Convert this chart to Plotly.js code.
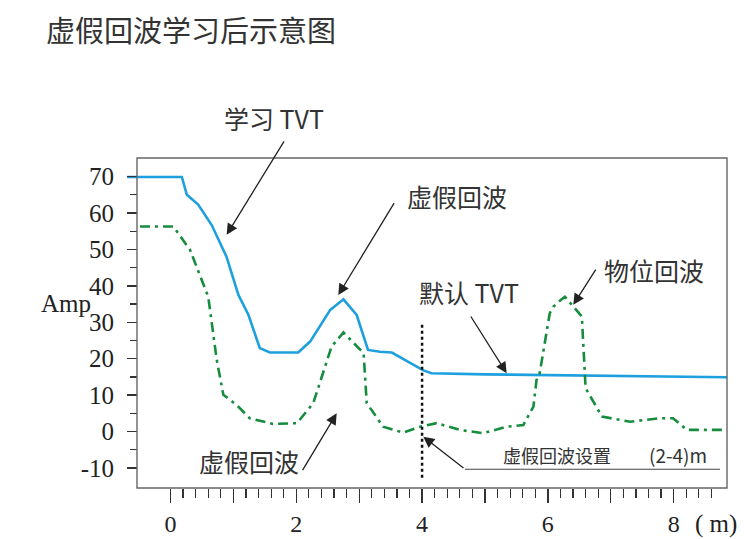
<!DOCTYPE html>
<html>
<head>
<meta charset="utf-8">
<script src="https://cdn.plot.ly/plotly-3.0.1.min.js"></script>
<style>html,body{margin:0;padding:0;background:#fff;}#chart{width:744px;height:539px;}</style>
</head>
<body>
<div id="chart"></div>
<script>
// ---- data ----
var titleText = "虚假回波学习后示意图";
var learnedX = [-0.69, 0.18, 0.26, 0.44, 0.655, 0.89, 1.08, 1.24, 1.42, 1.58, 2.03, 2.22, 2.54, 2.75, 2.96, 3.14, 3.33, 3.52, 4.02, 4.15, 5.0, 6.0, 6.83, 8.0, 8.848];
var learnedY = [69.9, 69.9, 65.0, 62.3, 56.7, 48.0, 37.5, 32.0, 22.9, 21.7, 21.7, 24.7, 33.4, 36.3, 32.0, 22.4, 21.9, 21.7, 16.8, 16.0, 15.7, 15.5, 15.4, 15.0, 14.9];
var echoX = [-0.485, 0.045, 0.31, 0.60, 0.735, 0.84, 1.05, 1.26, 1.63, 2.01, 2.27, 2.43, 2.56, 2.75, 3.07, 3.12, 3.38, 3.70, 3.97, 4.23, 4.60, 4.97, 5.35, 5.61, 5.77, 5.82, 5.87, 6.03, 6.09, 6.14, 6.27, 6.54, 6.60, 6.86, 7.31, 7.78, 7.99, 8.21, 8.848];
var echoY = [56.3, 56.3, 49.9, 37.0, 19.7, 10.1, 7.3, 3.65, 2.1, 2.3, 7.8, 16.0, 23.3, 27.2, 21.5, 7.8, 1.35, -0.3, 1.35, 2.3, 0.45, -0.45, 1.35, 1.8, 6.85, 14.2, 16.0, 32.5, 34.3, 35.2, 37.0, 31.6, 11.9, 4.1, 2.7, 3.65, 3.65, 0.45, 0.45];
var xTickVals = [0, 1, 2, 3, 4, 5, 6, 7, 8];
var xTickText = ["0", "", "2", "", "4", "", "6", "", "8"];
var yTickVals = [-10, 0, 10, 20, 30, 40, 50, 60, 70];
var yTickText = ["-10", "0", "10", "20", "30", "40", "50", "60", "70"];
var yLabel = "Amp";
var xUnit = "( m)";
var labels = {
  learned: "学习 TVT",
  falseTop: "虚假回波",
  defaultTvt: "默认 TVT",
  level: "物位回波",
  falseBottom: "虚假回波",
  setting: "虚假回波设置",
  range: "(2-4)m"
};
var falseEchoDistance = 4;

// minor ticks
var xMinor = [];
for (var i = 0; i <= 43; i++) { var v = Math.round(i * 2) / 10; if (Math.abs(v - Math.round(v)) > 1e-6) xMinor.push(v); }
var yMinor = [];
for (var k = -5; k <= 65; k += 10) yMinor.push(k);

var cjk = "Noto Sans CJK SC";
var serif = "Liberation Serif, Times New Roman, serif";
var txtColor = "#333333";

var traces = [
  { x: learnedX, y: learnedY, type: "scatter", mode: "lines",
    line: { color: "rgb(30,160,222)", width: 2.6 }, hoverinfo: "skip" },
  { x: echoX, y: echoY, type: "scatter", mode: "lines",
    line: { color: "rgb(22,140,62)", width: 2.6, dash: "10px,5px,3px,5px" }, hoverinfo: "skip" }
];

function arrow(tx, ty, hx, hy) {
  return { x: hx, y: hy, ax: tx, ay: ty, xref: "x", yref: "y", axref: "x", ayref: "y",
    text: "", showarrow: true, arrowhead: 2, arrowsize: 1.7, arrowwidth: 1.3, arrowcolor: "#222", standoff: 0, startstandoff: 0 };
}
function label(x, y, t, size, yref) {
  return { x: x, y: y, xref: "x", yref: yref || "y", text: t, showarrow: false,
    font: { family: cjk, size: size, color: txtColor }, xanchor: "center", yanchor: "middle" };
}

var annotations = [
  label(1.645, (488 - 118) / 330, labels.learned, 25, "paper"),
  label(4.555, 64.7, labels.falseTop, 25),
  label(4.746, 38.3, labels.defaultTvt, 25),
  label(7.687, 44.4, labels.level, 25),
  label(1.248, -8.07, labels.falseBottom, 25),
  label(6.145, -6.4, labels.setting, 18),
  label(8.07, -6.4, labels.range, 19),
  arrow(1.82, 80.1, 0.893, 54.0),
  arrow(3.57, 63.1, 2.668, 37.5),
  arrow(4.76, 32.0, 5.345, 16.0),
  arrow(6.776, 44.85, 6.404, 34.8),
  arrow(2.086, -11.0, 2.642, 5.0),
  arrow(4.682, -10.35, 4.019, -1.4),
  { x: -0.102, y: (488 - 303) / 330, xref: "paper", yref: "paper", text: yLabel, showarrow: false,
    font: { family: serif, size: 25, color: "#222" }, xanchor: "center", yanchor: "middle" },
  { x: 8.3, y: -36 / 330, xref: "x", yref: "paper", text: xUnit, showarrow: false,
    font: { family: serif, size: 25, color: "#222" }, xanchor: "left", yanchor: "middle" }
];

var shapes = [
  { type: "rect", xref: "paper", yref: "paper", x0: 10 / 600, x1: 1, y0: 0, y1: 1,
    line: { color: "#666", width: 1.4 }, fillcolor: "rgba(0,0,0,0)" },
  { type: "line", xref: "x", yref: "y", x0: falseEchoDistance, x1: falseEchoDistance, y0: -12.7, y1: 29.3,
    line: { color: "#111", width: 2.5, dash: "3px,3px" } },
  { type: "line", xref: "x", yref: "y", x0: 4.682, x1: 8.736, y0: -10.35, y1: -10.35,
    line: { color: "#444", width: 1.2 } }
];

var layout = {
  width: 744, height: 539,
  margin: { l: 127, r: 17, t: 158, b: 51, pad: 0 },
  paper_bgcolor: "#fff", plot_bgcolor: "rgba(0,0,0,0)",
  showlegend: false,
  title: { text: titleText, x: 46 / 744, xanchor: "left", xref: "container",
    y: 1 - 32 / 539, yanchor: "middle", yref: "container",
    font: { family: cjk, size: 29, color: txtColor } },
  xaxis: {
    range: [-0.6916, 8.848], domain: [0, 1], showline: false, showgrid: false, zeroline: false,
    tickmode: "array", tickvals: xTickVals, ticktext: xTickText,
    ticks: "outside", ticklen: 14, tickwidth: 1.3, tickcolor: "#333",
    minor: { tickmode: "array", tickvals: xMinor, ticks: "outside", ticklen: 9, tickwidth: 1.2, tickcolor: "#333", showgrid: false },
    tickfont: { family: serif, size: 24, color: "#222" }, ticklabelstandoff: 0
  },
  yaxis: {
    range: [-15.5, 75.1], anchor: "free", position: 10 / 600, side: "left",
    showline: false, showgrid: false, zeroline: false,
    tickmode: "array", tickvals: yTickVals, ticktext: yTickText,
    ticks: "outside", ticklen: 10, tickwidth: 1.3, tickcolor: "#333",
    minor: { tickmode: "array", tickvals: yMinor, ticks: "outside", ticklen: 7, tickwidth: 1.2, tickcolor: "#333", showgrid: false },
    tickfont: { family: serif, size: 25, color: "#222" }, ticklabelstandoff: 8
  },
  annotations: annotations,
  shapes: shapes
};

Plotly.newPlot("chart", traces, layout, { staticPlot: true, displayModeBar: false });
</script>
</body>
</html>
